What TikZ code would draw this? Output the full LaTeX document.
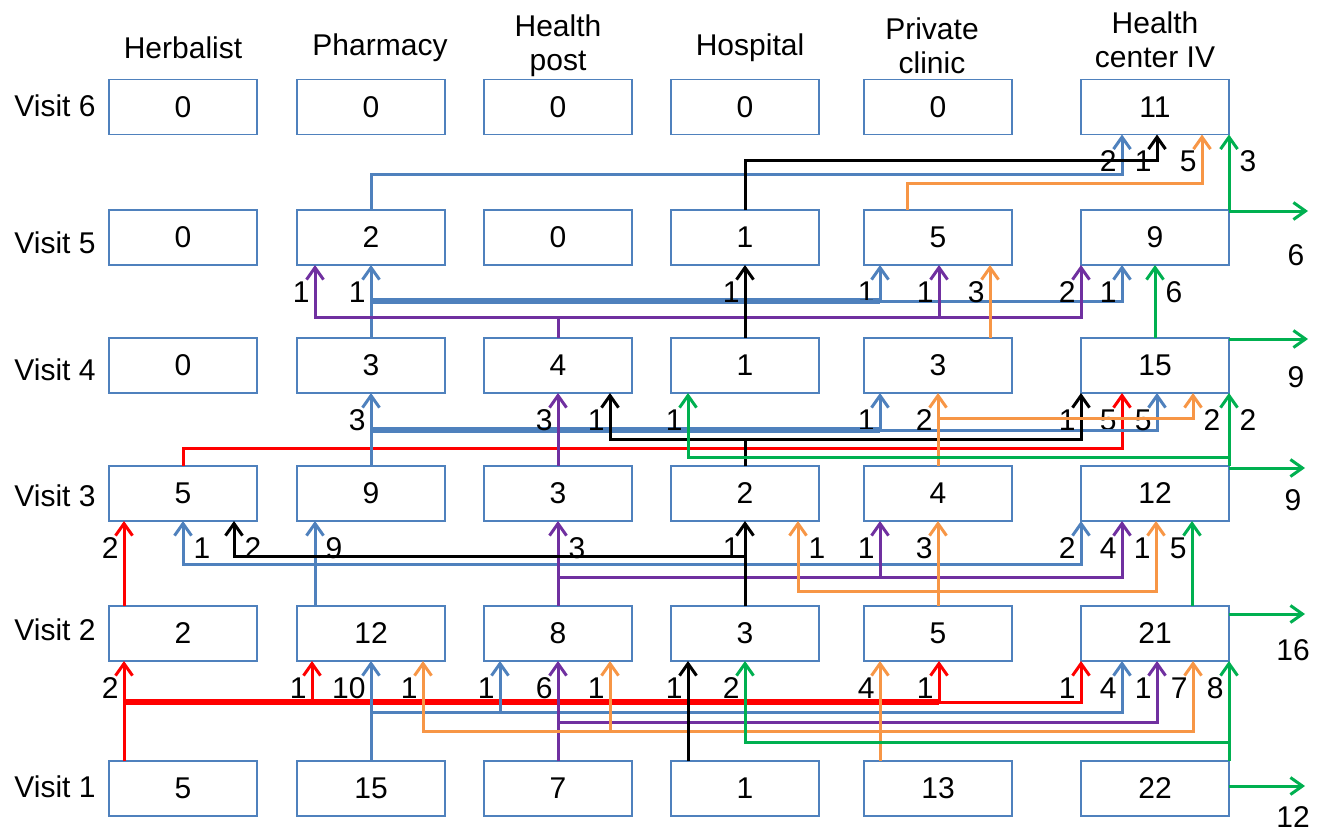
\documentclass[tikz,border=0pt]{standalone}
\usepackage{fontspec}
\setmainfont{Liberation Sans}
\usetikzlibrary{arrows.meta,calc}

\definecolor{cBox}{RGB}{79,129,189}
\definecolor{cHerb}{RGB}{255,0,0}
\definecolor{cPhar}{RGB}{79,129,189}
\definecolor{cPost}{RGB}{112,48,160}
\definecolor{cHosp}{RGB}{0,0,0}
\definecolor{cPriv}{RGB}{247,150,70}
\definecolor{cHciv}{RGB}{0,176,80}

\tikzset{
  box/.style={draw=cBox, line width=0.75pt, minimum width=74pt, minimum height=27.5pt,
    inner sep=0pt, outer sep=0pt, font=\fontsize{15}{18}\selectfont},
  head/.style={align=center, font=\fontsize{15}{17}\selectfont},
  flow/.style={line width=1.5pt, -{Straight Barb[length=6pt,width=8.5pt]}},
  herbflow/.style={flow, draw=cHerb},
  pharflow/.style={flow, draw=cPhar},
  postflow/.style={flow, draw=cPost},
  hospflow/.style={flow, draw=cHosp},
  privflow/.style={flow, draw=cPriv},
  hcivflow/.style={flow, draw=cHciv},
  lbl/.style={inner sep=0pt, font=\fontsize{15}{17}\selectfont},
  lleft/.style={lbl, anchor=east, xshift=-2pt, yshift=-13.5pt},
  lright/.style={lbl, anchor=west, xshift=4.5pt, yshift=-13.5pt},
  olbl/.style={lbl, anchor=north, xshift=-6pt}
}

\begin{document}
\begin{tikzpicture}[x=0.5pt,y=-0.5pt]
  \useasboundingbox (0,0) rectangle (1331,831);

  % column heads and row labels
  \node[head] (hHerb) at (183,48) {Herbalist};
  \node[head] (hPhar) at (380,48) {Pharmacy};
  \node[head] (hPost) at (558,46) {Health\\post};
  \node[head] (hHosp) at (750,48) {Hospital};
  \node[head] (hPriv) at (932,46) {Private\\clinic};
  \node[head] (hHciv) at (1155,40) {Health\\center IV};
  \foreach \v/\y in {6/106,5/243,4/370,3/496,2/630,1/787}
    \node[head] (visit\v) at (55,\y) {Visit \v};

  % boxes, one row per visit
  \foreach \c/\x/\n in {herb/183/0,phar/371/0,post/558/0,hosp/745/0,priv/938/0,hciv/1155/11}
    \node[box] (\c6) at (\x,107) {\n};
  \foreach \c/\x/\n in {herb/183/0,phar/371/2,post/558/0,hosp/745/1,priv/938/5,hciv/1155/9}
    \node[box] (\c5) at (\x,237.5) {\n};
  \foreach \c/\x/\n in {herb/183/0,phar/371/3,post/558/4,hosp/745/1,priv/938/3,hciv/1155/15}
    \node[box] (\c4) at (\x,365.5) {\n};
  \foreach \c/\x/\n in {herb/183/5,phar/371/9,post/558/3,hosp/745/2,priv/938/4,hciv/1155/12}
    \node[box] (\c3) at (\x,493.5) {\n};
  \foreach \c/\x/\n in {herb/183/2,phar/371/12,post/558/8,hosp/745/3,priv/938/5,hciv/1155/21}
    \node[box] (\c2) at (\x,633.5) {\n};
  \foreach \c/\x/\n in {herb/183/5,phar/371/15,post/558/7,hosp/745/1,priv/938/13,hciv/1155/22}
    \node[box] (\c1) at (\x,788.5) {\n};

  % free ends of the arrows leaving the system
  \coordinate (out1) at (1305,786);
  \coordinate (out2) at (1305,614);
  \coordinate (out3) at (1305,468);
  \coordinate (out4) at (1308,339);
  \coordinate (out5) at (1308,211);

  % visit 1 to visit 2
  \draw[herbflow,-,line width=3pt] ($(herb1.north)+(-59,-59)$) -- ($(priv2.south)+(1,41)$);
  \draw[herbflow] ($(herb1.north)+(-59,0)$) -- ($(herb2.south)+(-59,0)$) node[lleft] {2};
  \draw[herbflow] ($(herb1.north)+(-59,0)$) |- ($(phar2.south)+(-59,41)$) -- ($(phar2.south)+(-59,0)$) node[lleft] {1};
  \draw[herbflow] ($(herb1.north)+(-59,0)$) |- ($(priv2.south)+(1,41)$) -- ($(priv2.south)+(1,0)$) node[lleft] {1};
  \draw[herbflow] ($(herb1.north)+(-59,0)$) |- ($(hciv2.south west)+(0,41)$) -- (hciv2.south west) node[lleft] {1};
  \draw[pharflow] (phar1.north) -- (phar2.south) node[lleft] {10};
  \draw[pharflow] (phar1.north) |- ($(post2.south)+(-58,51)$) -- ($(post2.south)+(-58,0)$) node[lleft] {1};
  \draw[pharflow] (phar1.north) |- ($(hciv2.south)+(-33,51)$) -- ($(hciv2.south)+(-33,0)$) node[lleft] {4};
  \draw[postflow] (post1.north) -- (post2.south) node[lleft] {6};
  \draw[postflow] (post1.north) |- ($(hciv2.south)+(2,61)$) -- ($(hciv2.south)+(2,0)$) node[lleft] {1};
  \draw[privflow] ($(priv1.north)+(-58,0)$) -- ($(priv2.south)+(-58,0)$) node[lleft] {4};
  \draw[privflow] ($(priv1.north)+(-58,0)$) |- ($(phar2.south)+(52,70)$) -- ($(phar2.south)+(52,0)$) node[lleft] {1};
  \draw[privflow] ($(priv1.north)+(-58,0)$) |- ($(post2.south)+(52,70)$) -- ($(post2.south)+(52,0)$) node[lleft] {1};
  \draw[privflow] ($(priv1.north)+(-58,0)$) |- ($(hciv2.south)+(38,70)$) -- ($(hciv2.south)+(38,0)$) node[lleft] {7};
  \draw[hospflow] ($(hosp1.north)+(-57,0)$) -- ($(hosp2.south)+(-57,0)$) node[lleft] {1};
  \draw[hcivflow] (hciv1.north east) -- (hciv2.south east) node[lleft] {8};
  \draw[hcivflow] (hciv1.north east) |- ($(hosp2.south)+(0,81)$) -- (hosp2.south) node[lleft] {2};
  \draw[hcivflow] (hciv1.east |- out1) -- (out1) node[olbl, yshift=-9.5pt] {12};

  % visit 2 to visit 3
  \draw[herbflow] ($(herb2.north)+(-59,0)$) -- ($(herb3.south)+(-59,0)$) node[lleft] {2};
  \draw[pharflow] ($(phar2.north)+(-56,0)$) -- ($(phar3.south)+(-56,0)$) node[lright] {9};
  \draw[pharflow] ($(phar2.north)+(-56,0)$) |- ($(herb3.south)+(0,43)$) -- (herb3.south) node[lright] {1};
  \draw[pharflow] ($(phar2.north)+(-56,0)$) |- ($(hciv3.south west)+(0,43)$) -- (hciv3.south west) node[lleft] {2};
  \draw[postflow] (post2.north) -- (post3.south) node[lright] {3};
  \draw[postflow] (post2.north) |- ($(priv3.south)+(-58,56)$) -- ($(priv3.south)+(-58,0)$) node[lleft] {1};
  \draw[postflow] (post2.north) |- ($(hciv3.south)+(-33,56)$) -- ($(hciv3.south)+(-33,0)$) node[lleft] {4};
  \draw[hospflow] (hosp2.north) -- (hosp3.south) node[lleft] {1};
  \draw[hospflow] (hosp2.north) |- ($(herb3.south)+(51,35)$) -- ($(herb3.south)+(51,0)$) node[lright] {2};
  \draw[privflow] (priv2.north) -- (priv3.south) node[lleft] {3};
  \draw[privflow] (priv2.north) |- ($(hosp3.south)+(53,70)$) -- ($(hosp3.south)+(53,0)$) node[lright] {1};
  \draw[privflow] (priv2.north) |- ($(hciv3.south)+(1,70)$) -- ($(hciv3.south)+(1,0)$) node[lleft] {1};
  \draw[hcivflow] ($(hciv2.north)+(37,0)$) -- ($(hciv3.south)+(37,0)$) node[lleft] {5};
  \draw[hcivflow] (hciv2.east |- out2) -- (out2) node[olbl, yshift=-12pt] {16};

  % visit 3 to visit 4
  \draw[herbflow] (herb3.north) |- ($(hciv4.south)+(-33,55)$) -- ($(hciv4.south)+(-33,0)$) node[lleft] {5};
  \draw[pharflow,-,line width=3pt] ($(phar3.north)+(0,-36)$) -- ($(priv4.south)+(-58,37)$);
  \draw[pharflow] (phar3.north) -- (phar4.south) node[lleft] {3};
  \draw[pharflow] (phar3.north) |- ($(priv4.south)+(-58,37)$) -- ($(priv4.south)+(-58,0)$) node[lleft] {1};
  \draw[pharflow] (phar3.north) |- ($(hciv4.south)+(2,37)$) -- ($(hciv4.south)+(2,0)$) node[lleft] {5};
  \draw[postflow] (post3.north) -- (post4.south) node[lleft] {3};
  \draw[hospflow] (hosp3.north) |- ($(post4.south)+(52,46)$) -- ($(post4.south)+(52,0)$) node[lleft] {1};
  \draw[hospflow] (hosp3.north) |- ($(hciv4.south west)+(0,46)$) -- (hciv4.south west) node[lleft] {1};
  \draw[privflow] (priv3.north) -- (priv4.south) node[lleft] {2};
  \draw[privflow] (priv3.north) |- ($(hciv4.south)+(38,25)$) -- ($(hciv4.south)+(38,0)$) node[lright] {2};
  \draw[hcivflow] (hciv3.north east) -- (hciv4.south east) node[lright] {2};
  \draw[hcivflow] (hciv3.north east) |- ($(hosp4.south)+(-57,64)$) -- ($(hosp4.south)+(-57,0)$) node[lleft] {1};
  \draw[hcivflow] (hciv3.east |- out3) -- (out3) node[olbl, yshift=-10pt] {9};

  % visit 4 to visit 5
  \draw[pharflow,-,line width=3pt] ($(phar4.north)+(0,-37)$) -- ($(priv5.south)+(-58,36)$);
  \draw[pharflow] (phar4.north) -- (phar5.south) node[lleft] {1};
  \draw[pharflow] (phar4.north) |- ($(priv5.south)+(-58,36)$) -- ($(priv5.south)+(-58,0)$) node[lleft] {1};
  \draw[pharflow] (phar4.north) |- ($(hciv5.south)+(-33,36)$) -- ($(hciv5.south)+(-33,0)$) node[lleft] {1};
  \draw[postflow] (post4.north) |- ($(phar5.south)+(-56,52)$) -- ($(phar5.south)+(-56,0)$) node[lleft] {1};
  \draw[postflow] (post4.north) |- ($(priv5.south)+(1,52)$) -- ($(priv5.south)+(1,0)$) node[lleft] {1};
  \draw[postflow] (post4.north) |- ($(hciv5.south west)+(0,52)$) -- (hciv5.south west) node[lleft] {2};
  \draw[hospflow] (hosp4.north) -- (hosp5.south) node[lleft] {1};
  \draw[privflow] ($(priv4.north)+(52,0)$) -- ($(priv5.south)+(52,0)$) node[lleft] {3};
  \draw[hcivflow] (hciv4.north) -- (hciv5.south) node[lright] {6};
  \draw[hcivflow] (hciv4.east |- out4) -- (out4) node[olbl, yshift=-13pt] {9};

  % visit 5 to visit 6
  \draw[pharflow] (phar5.north) |- ($(hciv6.south)+(-33,40)$) -- ($(hciv6.south)+(-33,0)$) node[lleft] {2};
  \draw[hospflow] (hosp5.north) |- ($(hciv6.south)+(2,26)$) -- ($(hciv6.south)+(2,0)$) node[lleft] {1};
  \draw[privflow] ($(priv5.north)+(-31,0)$) |- ($(hciv6.south)+(47,49)$) -- ($(hciv6.south)+(47,0)$) node[lleft] {5};
  \draw[hcivflow] (hciv5.north east) -- (hciv6.south east) node[lright] {3};
  \draw[hcivflow] (hciv5.east |- out5) -- (out5) node[olbl, yshift=-16pt] {6};
\end{tikzpicture}
\end{document}
